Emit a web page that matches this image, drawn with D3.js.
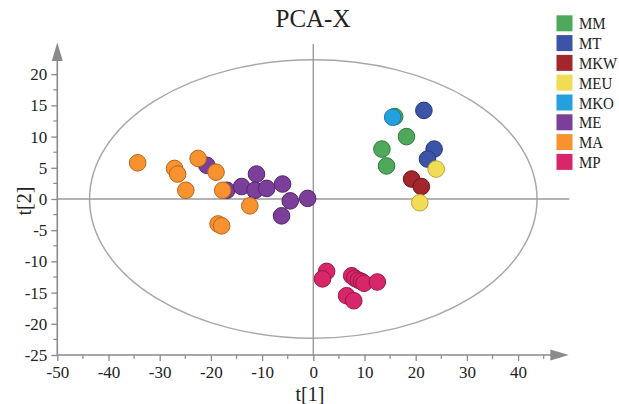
<!DOCTYPE html>
<html>
<head>
<meta charset="utf-8">
<script src="https://cdn.jsdelivr.net/npm/d3@7"></script>
<style>
  body { margin: 0; background: #fff; }
  text { font-family: "Liberation Serif", "DejaVu Serif", serif; fill: #222; }
</style>
</head>
<body>
<div id="main"></div>
<script>
/* size */
const width = 619, height = 404;

/* data */
const groups = ["MM", "MT", "MKW", "MEU", "MKO", "ME", "MA", "MP"];
const colors = ["#4ea95d", "#3b54a8", "#a3262c", "#f1dd55", "#23a1de", "#7b3f99", "#f7922f", "#d7266a"];
const strokes = ["#2f7a3c", "#25387a", "#6e1419", "#b8a636", "#157aa8", "#55256d", "#b8651a", "#9a1548"];

const mmX = [15.9, 18.2, 13.4, 14.3];
const mmY = [13.2, 10.0, 8.0, 5.3];
const mtX = [21.6, 23.6, 22.3];
const mtY = [14.2, 8.0, 6.4];
const mkwX = [19.2, 21.1];
const mkwY = [3.2, 2.0];
const meuX = [24.0, 20.8];
const meuY = [4.8, -0.6];
const mkoX = [15.5];
const mkoY = [13.1];
const meX = [-20.8, -16.9, -14.0, -11.1, -11.4, -9.1, -6.0, -4.5, -1.1, -6.2];
const meY = [5.4, 1.4, 2.0, 4.0, 1.4, 1.7, 2.4, -0.3, 0.1, -2.7];
const maX = [-34.3, -27.1, -26.5, -22.5, -24.9, -19.0, -17.7, -12.4, -18.6, -17.9];
const maY = [5.8, 4.9, 4.0, 6.5, 1.4, 4.3, 1.4, -1.1, -4.0, -4.3];
const mpX = [2.6, 1.8, 7.5, 8.1, 8.8, 9.4, 9.9, 12.5, 6.5, 7.9];
const mpY = [-11.6, -12.8, -12.3, -12.7, -13.0, -13.2, -13.5, -13.3, -15.5, -16.3];

const xTicks = [-50, -40, -30, -20, -10, 0, 10, 20, 30, 40];
const yTicks = [-25, -20, -15, -10, -5, 0, 5, 10, 15, 20];

// hotelling ellipse half-axes (data units)
const ellRx = 43.7, ellRy = 22.3;

const seriesX = [mmX, mtX, mkwX, meuX, mkoX, meX, maX, mpX];
const seriesY = [mmY, mtY, mkwY, meuY, mkoY, meY, maY, mpY];

/* scales */
const x = d3.scaleLinear().domain([-50, 0]).range([57.3, 313.3]);
const y = d3.scaleLinear().domain([-25, 0]).range([355, 199]);

const svg = d3.select("#main").append("svg")
  .attr("width", width).attr("height", height);

const axisCol = "#8a8a8a";

/* title */
svg.append("text")
  .attr("x", 313).attr("y", 27)
  .attr("text-anchor", "middle")
  .style("font-size", "25px")
  .text("PCA-X");

/* ellipse */
svg.append("ellipse")
  .attr("cx", x(0)).attr("cy", y(0))
  .attr("rx", x(ellRx) - x(0))
  .attr("ry", y(0) - y(ellRy))
  .attr("fill", "none")
  .attr("stroke", "#a8a8a8")
  .attr("stroke-width", 1.5);

/* zero lines */
svg.append("line")
  .attr("x1", x(-50)).attr("x2", x(50))
  .attr("y1", y(0)).attr("y2", y(0))
  .attr("stroke", "#9a9a9a").attr("stroke-width", 1.4);
svg.append("line")
  .attr("x1", x(0)).attr("x2", x(0))
  .attr("y1", 44).attr("y2", y(-25))
  .attr("stroke", "#9a9a9a").attr("stroke-width", 1.4);

/* x axis */
const xAxis = svg.append("g")
  .attr("transform", `translate(0,${y(-25)})`)
  .call(d3.axisBottom(x).tickValues(xTicks).tickSize(6).tickPadding(5).tickFormat(d3.format("")));
xAxis.select(".domain").remove();
xAxis.selectAll(".tick line").attr("stroke", axisCol).attr("stroke-width", 1.3);
xAxis.selectAll(".tick text")
  .style("font-size", "17px").style("font-family", "Liberation Serif").attr("fill", "#222")
  .text(d => d < 0 ? "-" + Math.abs(d) : d);
xAxis.selectAll(".minor")
  .data(xTicks.map(d => d + 5))
  .enter().append("line")
  .attr("x1", d => x(d)).attr("x2", d => x(d))
  .attr("y1", 0).attr("y2", 4)
  .attr("stroke", axisCol).attr("stroke-width", 1.2);
svg.append("line")
  .attr("x1", x(-50)).attr("x2", x(46.5))
  .attr("y1", y(-25)).attr("y2", y(-25))
  .attr("stroke", axisCol).attr("stroke-width", 1.6);
svg.append("path")
  .attr("d", `M${x(46.3)},${y(-25) - 5.5}L${x(49.9)},${y(-25)}L${x(46.3)},${y(-25) + 5.5}Z`)
  .attr("fill", axisCol);

/* y axis */
const yAxis = svg.append("g")
  .attr("transform", `translate(${x(-50)},0)`)
  .call(d3.axisLeft(y).tickValues(yTicks).tickSize(6).tickPadding(4).tickFormat(d3.format("")));
yAxis.select(".domain").remove();
yAxis.selectAll(".tick line").attr("stroke", axisCol).attr("stroke-width", 1.3);
yAxis.selectAll(".tick text")
  .style("font-size", "17px").style("font-family", "Liberation Serif").attr("fill", "#222")
  .text(d => d < 0 ? "-" + Math.abs(d) : d);
yAxis.selectAll(".minor")
  .data(yTicks.map(d => d + 2.5))
  .enter().append("line")
  .attr("x1", -4).attr("x2", 0)
  .attr("y1", d => y(d)).attr("y2", d => y(d))
  .attr("stroke", axisCol).attr("stroke-width", 1.2);
svg.append("line")
  .attr("x1", x(-50)).attr("x2", x(-50))
  .attr("y1", y(-25)).attr("y2", y(22.3))
  .attr("stroke", axisCol).attr("stroke-width", 1.6);
svg.append("path")
  .attr("d", `M${x(-50) - 5.5},${y(22.1)}L${x(-50)},${y(25.1)}L${x(-50) + 5.5},${y(22.1)}Z`)
  .attr("fill", axisCol);

/* axis labels */
svg.append("text")
  .attr("x", 310).attr("y", 401)
  .attr("text-anchor", "middle")
  .style("font-size", "20px")
  .text("t[1]");
svg.append("text")
  .attr("transform", "translate(31,201) rotate(-90)")
  .attr("text-anchor", "middle")
  .style("font-size", "20px")
  .text("t[2]");

/* points */
groups.forEach((g, i) => {
  const pts = seriesX[i].map((v, j) => [v, seriesY[i][j]]);
  svg.append("g").selectAll("circle")
    .data(pts)
    .enter().append("circle")
    .attr("cx", d => x(d[0]))
    .attr("cy", d => y(d[1]))
    .attr("r", 8.3)
    .attr("fill", colors[i])
    .attr("stroke", strokes[i])
    .attr("stroke-width", 1);
});

/* legend */
const legend = svg.append("g").selectAll("g")
  .data(groups)
  .enter().append("g")
  .attr("transform", (d, i) => `translate(556.5,${15.3 + i * 19.8})`);
legend.append("rect")
  .attr("width", 16).attr("height", 16)
  .attr("fill", (d, i) => colors[i]);
legend.append("text")
  .attr("transform", "translate(22.5,14) scale(0.88,1)")
  .style("font-size", "17px")
  .text(d => d);
</script>
</body>
</html>
